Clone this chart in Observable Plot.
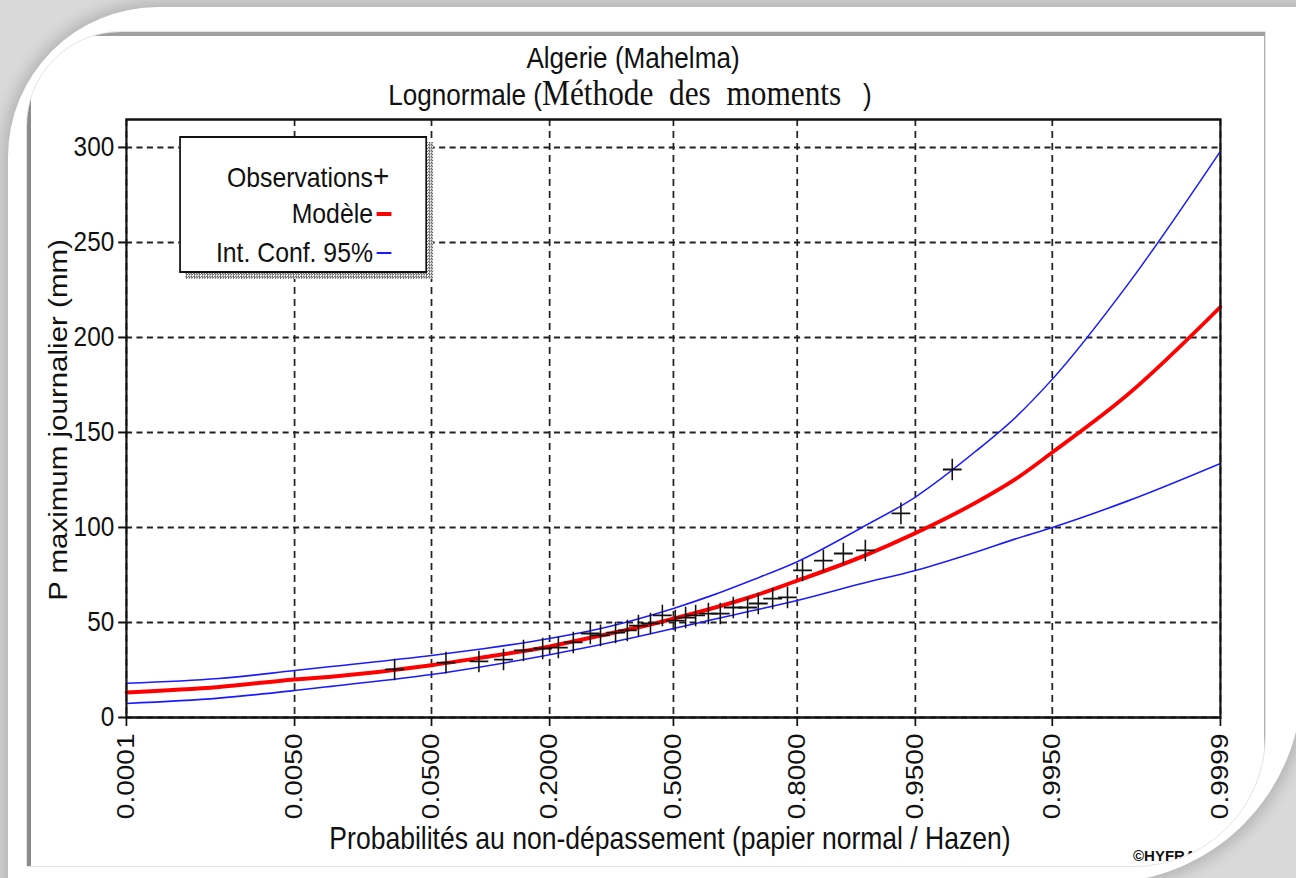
<!DOCTYPE html>
<html><head><meta charset="utf-8">
<script src="https://cdn.jsdelivr.net/npm/d3@7"></script>
<script src="https://cdn.jsdelivr.net/npm/@observablehq/plot@0.6"></script>
<style>
html,body{margin:0;padding:0;width:1296px;height:878px;overflow:hidden;background:#d9d9d9;}
#panel{position:absolute;left:8px;top:7px;width:1294px;height:876px;background:#fff;border-radius:150px 0 200px 0;box-shadow:0 0 14px 6px rgba(0,0,0,0.16);}
#win{position:absolute;left:26px;top:31px;width:1240px;height:836px;border-radius:95px 0 132px 0;overflow:hidden;border:1px solid #e4e4e4;box-sizing:border-box;}
#winframe{position:absolute;left:0;top:0;width:1240px;height:834px;border-top:4px solid #a0a0a0;border-left:4px solid #8c8c8c;border-right:3px solid #b0b0b0;box-sizing:border-box;}
#hyf{position:absolute;left:1106px;top:815px;font:bold 15px 'Liberation Sans',Arial,sans-serif;color:#111;}
#scaled{position:absolute;left:0;top:0;width:1490px;height:878px;transform:scaleX(0.869799);transform-origin:0 0;font-family:'Liberation Sans',Arial,sans-serif;color:#111;}
.t{position:absolute;white-space:pre;line-height:1;}
</style></head>
<body>
<div id="panel"></div>
<div id="win"><div id="winframe"></div><div id="hyf">©HYFRAN</div></div>
<div id="scaled"></div>
<script>
// ---------------- data ----------------
const titleLine1 = "Algerie (Mahelma)";
const titleSans = "Lognormale (";
const titleSerif = "Méthode  des  moments";
const titleEnd = "   )";
const xLabel = "Probabilités au non-dépassement (papier normal / Hazen)";
const yLabel = "P maximum journalier (mm)";
const legendLabels = ["Observations", "Modèle", "Int. Conf. 95%"];

const xTickProbs = [0.0001, 0.005, 0.05, 0.2, 0.5, 0.8, 0.95, 0.995, 0.9999];
const xTickLabels = ["0.0001", "0.0050", "0.0500", "0.2000", "0.5000", "0.8000", "0.9500", "0.9950", "0.9999"];
const yTicks = [0, 50, 100, 150, 200, 250, 300];
const yMax = 314.7;

// curves: non-exceedance probability -> value (mm)
const curveProbs = [0.0001, 0.001, 0.005, 0.01, 0.05, 0.1, 0.2, 0.3, 0.4, 0.5, 0.6, 0.7, 0.8, 0.9, 0.95, 0.98, 0.99, 0.995, 0.999, 0.9999];
const modelVals  = [13.2, 16.1, 20, 21.5, 27.5, 31.8, 37.4, 42.6, 47.2, 52, 57.2, 63.4, 72, 84.6, 97, 113, 125.5, 139.5, 170, 216];
const upperVals  = [18, 20.5, 24.7, 26.8, 32.6, 36.3, 41.6, 46.3, 51.6, 57.4, 64, 72, 82, 100, 116, 140, 158, 178, 228, 298];
const lowerVals  = [7.4, 10.2, 14.2, 16.4, 22.6, 27, 33, 37.9, 42.4, 46.8, 51.3, 56, 61.6, 70.5, 77.4, 87, 94, 100, 114, 133.7];

// observations (Hazen plotting position, value mm)
const obsProbs = [0.029, 0.061, 0.093, 0.124, 0.154, 0.187, 0.217, 0.248, 0.286, 0.310, 0.347, 0.377, 0.406, 0.438, 0.470, 0.505, 0.533, 0.560, 0.594, 0.625, 0.658, 0.693, 0.718, 0.750, 0.781, 0.810, 0.846, 0.876, 0.904, 0.939, 0.971];
const obsVals  = [25.3, 28.9, 29.5, 30.5, 35.3, 36.3, 36.8, 39.5, 44.2, 43.2, 44.7, 45.8, 48.4, 49.5, 53.7, 51, 52.6, 53.7, 54.7, 54.7, 57.9, 57.9, 60, 62.6, 63.2, 77.4, 82.6, 86.3, 87.9, 107.4, 130.5];

// ---------------- normal probability paper (inverse normal CDF) ----------------
function probit(p){
  const a=[-3.969683028665376e+01,2.209460984245205e+02,-2.759285104469687e+02,1.383577518672690e+02,-3.066479806614716e+01,2.506628277459239e+00];
  const b=[-5.447609879822406e+01,1.615858368580409e+02,-1.556989798598866e+02,6.680131188771972e+01,-1.328068155288572e+01];
  const c=[-7.784894002430293e-03,-3.223964580411365e-01,-2.400758277161838e+00,-2.549732539343734e+00,4.374664141464968e+00,2.938163982698783e+00];
  const d=[7.784695709041462e-03,3.224671290700398e-01,2.445134137142996e+00,3.754408661907416e+00];
  const pl=0.02425, ph=1-pl; let q,r;
  if(p<pl){q=Math.sqrt(-2*Math.log(p));return (((((c[0]*q+c[1])*q+c[2])*q+c[3])*q+c[4])*q+c[5])/((((d[0]*q+d[1])*q+d[2])*q+d[3])*q+1);}
  if(p<=ph){q=p-0.5;r=q*q;return (((((a[0]*r+a[1])*r+a[2])*r+a[3])*r+a[4])*r+a[5])*q/(((((b[0]*r+b[1])*r+b[2])*r+b[3])*r+b[4])*r+1);}
  q=Math.sqrt(-2*Math.log(1-p));return -(((((c[0]*q+c[1])*q+c[2])*q+c[3])*q+c[4])*q+c[5])/((((d[0]*q+d[1])*q+d[2])*q+d[3])*q+1);
}

const xTicksZ = xTickProbs.map(probit);
const labelOf = new Map(xTicksZ.map((z,i)=>[z, xTickLabels[i]]));
const curve = (vals) => curveProbs.map((p,i)=>({z: probit(p), v: vals[i]}));
const modelT = curve(modelVals), upperT = curve(upperVals), lowerT = curve(lowerVals);
const obsT = obsProbs.map((p,i)=>({z: probit(p), v: obsVals[i]}));

// ---------------- layout (pre-scale coordinates, x squeezed by K) ----------------
const K = 1296/1490;
const W0 = 1490, H0 = 878;
const fLeft = 126/K, fRight = 1220/K, fTop = 119, fBottom = 717;

const chart = Plot.plot({
  width: W0, height: H0,
  marginLeft: fLeft, marginRight: W0 - fRight, marginTop: fTop, marginBottom: H0 - fBottom,
  style: {background: "transparent", fontFamily: "'Liberation Sans', Arial, sans-serif", color: "#111", overflow: "visible"},
  x: {type: "linear", domain: [xTicksZ[0], xTicksZ[xTicksZ.length-1]]},
  y: {type: "linear", domain: [0, yMax]},
  marks: [
    Plot.gridX(xTicksZ, {stroke: "#222", strokeOpacity: 1, strokeWidth: 2, strokeDasharray: "7,5"}),
    Plot.gridY(yTicks, {stroke: "#222", strokeOpacity: 1, strokeWidth: 2, strokeDasharray: "7,5"}),
    Plot.line(lowerT, {x: "z", y: "v", stroke: "#1a1aff", strokeWidth: 1.6, curve: "monotone-x"}),
    Plot.line(upperT, {x: "z", y: "v", stroke: "#1a1aff", strokeWidth: 1.6, curve: "monotone-x"}),
    Plot.line(modelT, {x: "z", y: "v", stroke: "#ff0000", strokeWidth: 4, curve: "monotone-x"}),
    Plot.dot(obsT, {x: "z", y: "v", symbol: "plus", r: 7, stroke: "#111", strokeWidth: 1.8}),
    Plot.frame({stroke: "#111", strokeWidth: 2.5}),
    Plot.axisX(xTicksZ, {tickFormat: d => labelOf.get(d), tickRotate: -90, tickSize: 9, tickPadding: 7, label: null, fontSize: 28, strokeWidth: 2}),
    Plot.axisY(yTicks, {tickSize: 9, tickPadding: 5, label: null, fontSize: 28, strokeWidth: 2})
  ]
});
const host = document.getElementById("scaled");
chart.style.position = "absolute"; chart.style.left = "0px"; chart.style.top = "0px";
host.appendChild(chart);

function addText(html, css){ const d=document.createElement("div"); d.className="t"; d.innerHTML=html; Object.assign(d.style, css); host.appendChild(d); return d; }
const cx = 633/K;
addText(titleLine1, {left: cx+"px", top: "43px", fontSize: "30px", transform: "translateX(-50%)"});
addText(`<span>${titleSans}</span><span style="font-family:'Liberation Serif','Times New Roman',serif;font-size:36px">${titleSerif}</span><span>${titleEnd}</span>`,
  {left: (630/K)+"px", top: "75px", fontSize: "30px", transform: "translateX(-50%)"});
addText(xLabel, {left: (670/K)+"px", top: "823px", fontSize: "30.5px", transform: "translateX(-50%)"});
addText(yLabel, {left: (58/K)+"px", top: "420px", fontSize: "29.5px", transform: "translate(-50%,-50%) rotate(-90deg)"});

// legend box
const bx0 = 179/K, bx1 = 427/K, by0 = 136, by1 = 273, sh = 6;
const shadow = document.createElement("div");
Object.assign(shadow.style, {position:"absolute", left:(bx0+sh/K)+"px", top:(by0+sh)+"px", width:(bx1-bx0)+"px", height:(by1-by0)+"px",
  background:"repeating-conic-gradient(#6a6a6a 0 25%, #ffffff 0 50%) 0 0/3px 3px"});
host.appendChild(shadow);
const box = document.createElement("div");
Object.assign(box.style, {position:"absolute", left:bx0+"px", top:by0+"px", width:(bx1-bx0)+"px", height:(by1-by0)+"px", background:"#fff", border:"2px solid #111", boxSizing:"border-box"});
host.appendChild(box);
const tr = 373/K;
const rows = [177, 213, 252];
legendLabels.forEach((s,i)=>{
  addText(s, {left: tr+"px", top: rows[i]+"px", fontSize: "28.5px", transform: "translate(-100%,-50%)"});
});
addText("+", {left: (tr)+"px", top: rows[0]+"px", fontSize: "32px", transform: "translate(0,-52%)"});
const dash = (y, color, h) => { const d=document.createElement("div"); Object.assign(d.style,{position:"absolute", left:(377/K)+"px", top:(y-h/2)+"px", width:(14/K)+"px", height:h+"px", background:color}); host.appendChild(d); };
dash(rows[1]+1, "#ff0000", 4);
dash(rows[2]+1, "#1a1aff", 2);
</script>
</body></html>
